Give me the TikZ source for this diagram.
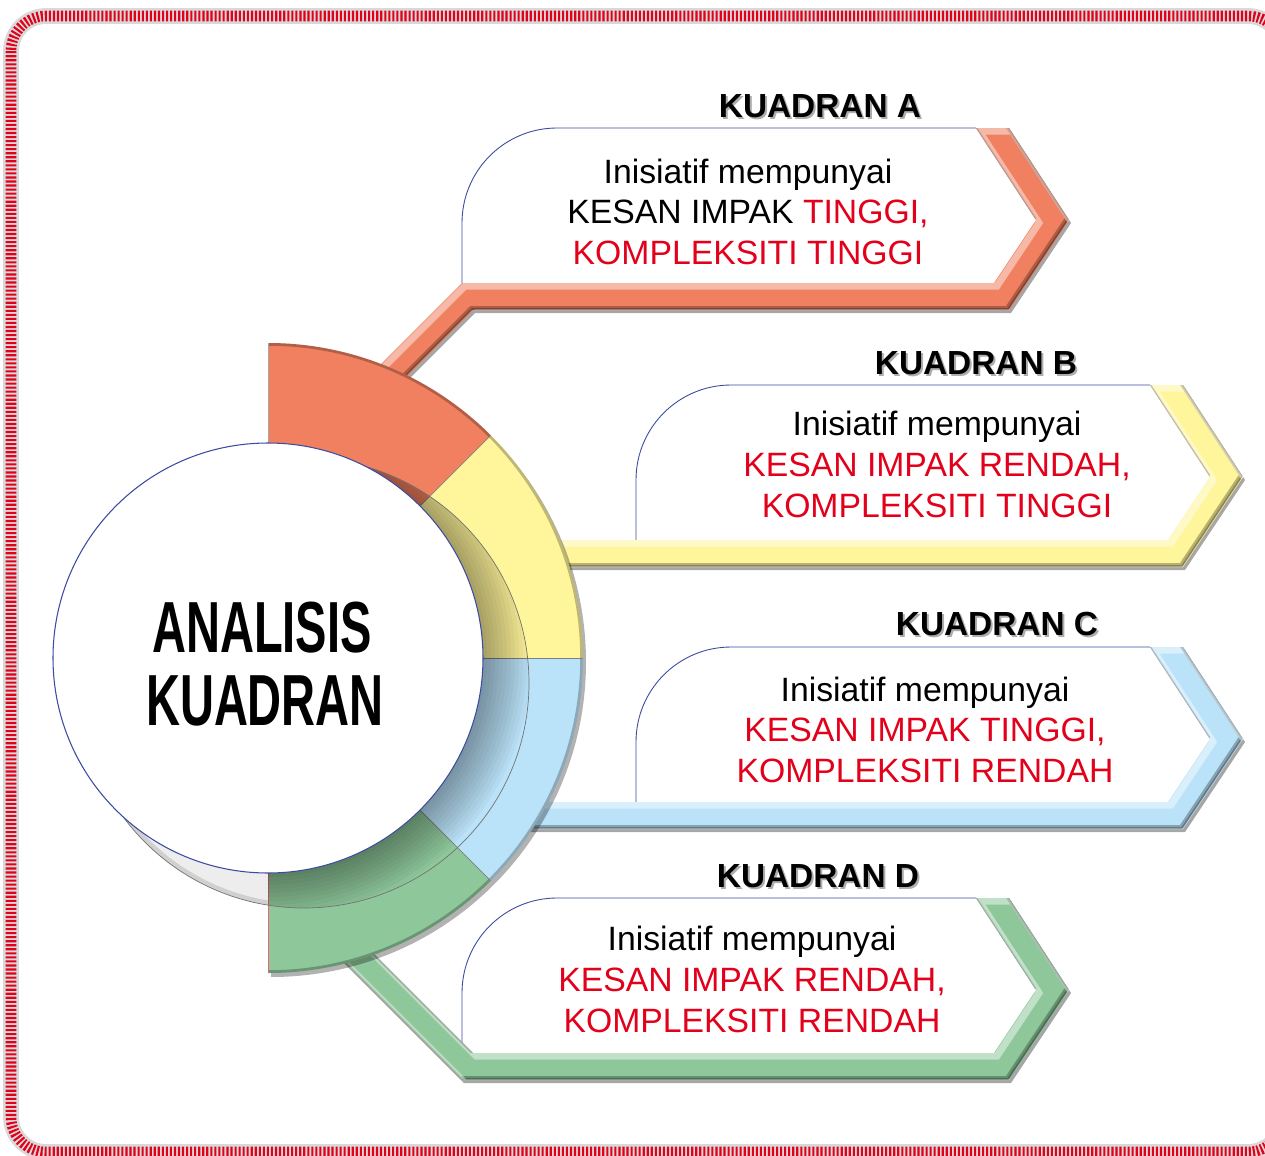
\documentclass[tikz,border=0pt]{standalone}
\usepackage{fontspec}
\setmainfont{Liberation Sans}
\definecolor{kor}{RGB}{240,128,96}
\definecolor{kye}{RGB}{255,245,155}
\definecolor{kbl}{RGB}{186,226,248}
\definecolor{kgr}{RGB}{142,199,154}
\definecolor{kred}{RGB}{227,0,27}
\definecolor{kline}{RGB}{60,75,160}
\tikzset{
  body/.style={font=\fontsize{19.2}{23}\selectfont, inner sep=0pt, anchor=base},
  ttl/.style={font=\bfseries\fontsize{19}{23}\selectfont, inner sep=0pt, anchor=base},
  ttlshadow/.style={ttl, text=black!40, opacity=0.8},
  bandshadow/.style={fill=black, opacity=0.35},
  boxedge/.style={draw=kline, line width=0.5pt},
  seamline/.style={draw=black!50, line width=0.4pt},
}
% filled band with an embossed look
\newcommand{\kband}[2]{%
  \fill[#1] #2;
  \begin{scope}
    \clip #2;
    \draw[black, opacity=0.28, line width=2.2pt, shift={(-2,-2)}] #2;
    \draw[black, opacity=0.25, line width=1pt, shift={(-1,-1)}] #2;
    \draw[white, opacity=0.45, line width=4pt, shift={(3,3)}] #2;
  \end{scope}}
\begin{document}
\begin{tikzpicture}[x=0.02cm, y=-0.02cm, line join=miter]
\useasboundingbox (0,0) rectangle (1265,1156);
\begin{scope}
\clip (0,0) rectangle (1265,1156);
\fill[white] (0,0) rectangle (1265,1156);
% border
\draw[black!15, line width=9pt, rounded corners=20pt] (11,16) rectangle (1283,1152);
\draw[kred, line width=6pt, dash pattern=on 1.2pt off 1.1pt, rounded corners=20pt] (11,16) rectangle (1283,1152);

% band shadows
\fill[bandshadow, shift={(2,3)}] (352,393) -- (462,283) -- (994,283) -- (1036,220) -- (976,128) -- (1009,128) -- (1069,220) -- (1009,310) -- (473,310) -- (363,420) -- cycle;
\fill[bandshadow, shift={(2,3)}] (500,540) -- (1168,540) -- (1210,477) -- (1150,385) -- (1183,385) -- (1243,477) -- (1183,567) -- (500,567) -- cycle;
\fill[bandshadow, shift={(2,3)}] (500,802) -- (1168,802) -- (1210,739) -- (1150,647) -- (1183,647) -- (1243,739) -- (1183,829) -- (500,829) -- cycle;
\fill[bandshadow, shift={(2,3)}] (343,923) -- (473,1053) -- (994,1053) -- (1036,990) -- (976,898) -- (1009,898) -- (1069,990) -- (1009,1080) -- (462,1080) -- (332,950) -- cycle;

% boxes
\fill[white] (462,283) -- (462,223) arc[start angle=180,end angle=270,radius=95] -- (976,128) -- (1036,220) -- (994,283) -- cycle;
\draw[boxedge] (462,283) -- (462,223) arc[start angle=180,end angle=270,radius=95] -- (976,128);
\fill[white] (636,540) -- (636,480) arc[start angle=180,end angle=270,radius=95] -- (1150,385) -- (1210,477) -- (1168,540) -- cycle;
\draw[boxedge] (636,540) -- (636,480) arc[start angle=180,end angle=270,radius=95] -- (1150,385);
\fill[white] (636,802) -- (636,742) arc[start angle=180,end angle=270,radius=95] -- (1150,647) -- (1210,739) -- (1168,802) -- cycle;
\draw[boxedge] (636,802) -- (636,742) arc[start angle=180,end angle=270,radius=95] -- (1150,647);
\fill[white] (462,1053) -- (462,993) arc[start angle=180,end angle=270,radius=95] -- (976,898) -- (1036,990) -- (994,1053) -- cycle;
\draw[boxedge] (462,1053) -- (462,993) arc[start angle=180,end angle=270,radius=95] -- (976,898);

% bands (connectors + chevrons)
\kband{kor}{(352,393) -- (462,283) -- (994,283) -- (1036,220) -- (976,128) -- (1009,128) -- (1069,220) -- (1009,310) -- (473,310) -- (363,420) -- cycle}
\kband{kye}{(500,540) -- (1168,540) -- (1210,477) -- (1150,385) -- (1183,385) -- (1243,477) -- (1183,567) -- (500,567) -- cycle}
\kband{kbl}{(500,802) -- (1168,802) -- (1210,739) -- (1150,647) -- (1183,647) -- (1243,739) -- (1183,829) -- (500,829) -- cycle}
\kband{kgr}{(343,923) -- (473,1053) -- (994,1053) -- (1036,990) -- (976,898) -- (1009,898) -- (1069,990) -- (1009,1080) -- (462,1080) -- (332,950) -- cycle}

% ring
\begin{scope}[shift={(268,658)}]
  \fill[black, opacity=0.3, shift={(3,4)}] (0,-315) arc[start angle=-90,end angle=90,radius=315] -- cycle;
  \fill[kor] (0,0) -- (-90:315) arc[start angle=-90,end angle=-45,radius=315] -- cycle;
  \fill[kye] (0,0) -- (-45:315) arc[start angle=-45,end angle=0,radius=315] -- cycle;
  \fill[kbl] (0,0) -- (0:315) arc[start angle=0,end angle=45,radius=315] -- cycle;
  \fill[kgr] (0,0) -- (45:315) arc[start angle=45,end angle=90,radius=315] -- cycle;
  \begin{scope}
    \clip (0,-315) arc[start angle=-90,end angle=90,radius=315] -- cycle;
    \draw[black, opacity=0.25, line width=2pt] (0,0) circle[radius=314];
  \end{scope}
  \draw[seamline] (-45:200) -- (-45:315);
  \draw[seamline] (0:200) -- (0:315);
  \draw[seamline] (45:200) -- (45:315);
  \draw[black!35, line width=0.4pt] (0,-315) -- (0,-200);
  \draw[kred!60, line width=0.4pt] (0,315) -- (0,200);
  % cast shadow of the circle
  \begin{scope}
    \clip (36,25) circle[radius=225];
    \begin{scope}
      \clip (0,-400) rectangle (400,400);
      \foreach \r in {215,219,...,263} \fill[black, opacity=0.03] (0,0) circle[radius=\r];
    \end{scope}
    \begin{scope}
      \clip (-400,-400) rectangle (0,400);
      \fill[black, opacity=0.07] (36,25) circle[radius=225];
      \draw[black, opacity=0.12, line width=3pt] (36,25) circle[radius=223];
    \end{scope}
  \end{scope}
  \draw[black!55, line width=0.4pt] (36,25) circle[radius=225];
  % main circle
  \fill[white] (0,0) circle[radius=215];
  \draw[kline, line width=0.6pt] (0,0) circle[radius=215];
\end{scope}

% centre title
\node[inner sep=0pt, anchor=base, font=\bfseries\fontsize{41.2}{45}\selectfont] (an1) at (262,652) {\scalebox{0.65}[1]{ANALISIS}};
\node[inner sep=0pt, anchor=base, font=\bfseries\fontsize{41.2}{45}\selectfont] (an2) at (265,725) {\scalebox{0.65}[1]{KUADRAN}};

% quadrant titles
\node[ttlshadow] (tAs) at (822,119) {KUADRAN A};
\node[ttl] (tA) at (820,117) {KUADRAN A};
\node[ttlshadow] (tBs) at (978,376) {KUADRAN B};
\node[ttl] (tB) at (976,374) {KUADRAN B};
\node[ttlshadow] (tCs) at (999,637) {KUADRAN C};
\node[ttl] (tC) at (997,635) {KUADRAN C};
\node[ttlshadow] (tDs) at (820,889) {KUADRAN D};
\node[ttl] (tD) at (818,887) {KUADRAN D};

% box texts
\node[body] (a1) at (748,183) {Inisiatif mempunyai};
\node[body] (a2) at (748,223) {KESAN IMPAK \textcolor{kred}{TINGGI,}};
\node[body, text=kred] (a3) at (748,264) {KOMPLEKSITI TINGGI};

\node[body] (b1) at (937,435) {Inisiatif mempunyai};
\node[body, text=kred] (b2) at (937,476) {KESAN IMPAK RENDAH,};
\node[body, text=kred] (b3) at (937,517) {KOMPLEKSITI TINGGI};

\node[body] (c1) at (925,701) {Inisiatif mempunyai};
\node[body, text=kred] (c2) at (925,741) {KESAN IMPAK TINGGI,};
\node[body, text=kred] (c3) at (925,782) {KOMPLEKSITI RENDAH};

\node[body] (d1) at (752,950) {Inisiatif mempunyai};
\node[body, text=kred] (d2) at (752,991) {KESAN IMPAK RENDAH,};
\node[body, text=kred] (d3) at (752,1032) {KOMPLEKSITI RENDAH};
\end{scope}
\end{tikzpicture}
\end{document}
